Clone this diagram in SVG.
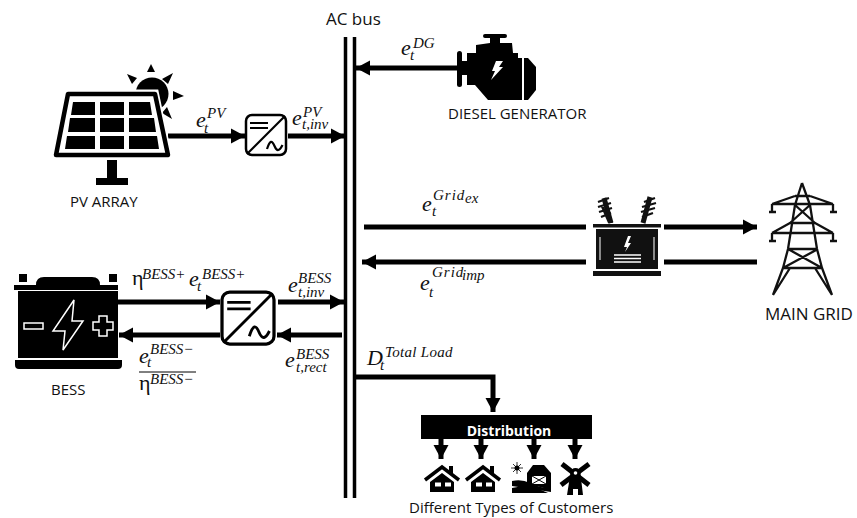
<svg xmlns="http://www.w3.org/2000/svg" width="857" height="518" viewBox="0 0 857 518">
<defs>
<style>
.lab{font-family:"Open Sans","Liberation Sans",sans-serif;font-size:15px;fill:#111}
.math{font-family:"Liberation Serif",serif;font-style:italic;fill:#111;font-size:15px}
.b{font-size:22px}
.up{font-style:normal}
.w{fill:none;stroke:#000;stroke-width:5}
.inv{fill:#fff;stroke:#000;stroke-width:2.5}
.tw{fill:none;stroke:#111;stroke-width:2.3}
</style>
<marker id="a" markerUnits="userSpaceOnUse" markerWidth="14" markerHeight="16" refX="14" refY="8" orient="auto"><path d="M0 0.500L14 8L0 15.500Z"/></marker>
<g id="invsym">
<rect class="inv" x="0" y="0" width="40" height="40" rx="6"/>
<path d="M1 39L39 1" stroke="#000" stroke-width="2.2" fill="none"/>
<path d="M4 8H22M4 13H22" stroke="#000" stroke-width="2.2" fill="none"/>
<path d="M21 34c3-9 5-9 7.500-3s5 5 8-1" stroke="#000" stroke-width="2.200" fill="none"/>
</g>
<g id="house">
<path d="M1 15L18 2L35 15" fill="none" stroke="#000" stroke-width="3.500"/>
<path d="M25 1H29V9L25 6Z"/>
<path d="M6 17L18 8L30 17V27H6ZM11 17.500V21.500H17V17.500ZM21 17.500V21.500H27V17.500Z" fill-rule="evenodd"/>
</g>
</defs>
<g id="connectors">
<path d="M345.500 37V498M354.500 37V498" stroke="#000" stroke-width="3.500" fill="none"/>
<path class="w" marker-end="url(#a)" d="M168 136H245"/>
<path class="w" marker-end="url(#a)" d="M288 136H345"/>
<path class="w" marker-end="url(#a)" d="M458 68H356"/>
<path class="w" marker-end="url(#a)" d="M118 302H220"/>
<path class="w" marker-end="url(#a)" d="M220 335H119"/>
<path class="w" marker-end="url(#a)" d="M278 302H344"/>
<path class="w" marker-end="url(#a)" d="M342 335H277"/>
<path class="w" d="M364 227H586"/>
<path class="w" marker-end="url(#a)" d="M586 262H362"/>
<path class="w" marker-end="url(#a)" d="M664 227H757"/>
<path class="w" d="M664 262H757"/>
<path class="w" marker-end="url(#a)" d="M356 377H493V412"/>
<path class="w" marker-end="url(#a)" d="M441 439V459"/>
<path class="w" marker-end="url(#a)" d="M481 439V459"/>
<path class="w" marker-end="url(#a)" d="M534 439V459"/>
<path class="w" marker-end="url(#a)" d="M575 439V459"/>
</g>
<g id="bus-label"><text class="lab" x="326" y="25" style="font-size:17px">AC bus</text></g>
<g id="pv-array">
<circle cx="152" cy="94" r="16.500"/>
<path d="M151 64L155 72H147ZM127 74L137 78L132 84ZM173 73L168 84L162 79ZM184 96L173 100V91ZM172 119L162 113L167 107Z"/>
<path d="M66 91H157L171 158H53Z" fill="#fff" stroke="#fff" stroke-width="3"/>
<path d="M68 94H155L168 155H56Z" fill="#fff" stroke="#000" stroke-width="4.500" stroke-linejoin="round"/>
<path d="M73 102H95V115H71ZM100 102H124V115H100ZM129 102H150L152 115H129ZM70 118H95V132H68ZM100 118H124V132H100ZM129 118H154L156 132H129ZM67 136H95V149H65ZM100 136H124V149H100ZM129 136H157L159 149H129Z"/>
<path d="M107 160H117V178H128V185H96V178H107Z"/>
<text class="lab" x="70" y="207">PV ARRAY</text>
</g>
<g id="pv-inverter"><use href="#invsym" x="246" y="115"/></g>
<g id="diesel-generator">
<rect x="457" y="51" width="5" height="36" rx="2.500"/>
<path d="M462 61H467V53H476V45L490 43V38H485Q483 38 483 36T485 34H505Q507 34 507 36T505 38H500V43H512L513 53H518V58H522V100H488L475 85H467V75H462Z"/>
<path d="M524 58H528L536 67V90L528 100H524Z"/>
<path d="M496 61H503L499 67H503L491 80L495 71H492Z" fill="#fff"/>
<text class="lab" x="448" y="119">DIESEL GENERATOR</text>
</g>
<g id="transformer">
<path d="M604 198L611 223" stroke="#111" stroke-width="5" fill="none"/>
<path d="M604 207L613 223H608L601 207Z" fill="#111"/>
<path d="M598 202L609 198M598 207L611 203M599 212L612 208M601 217L611 213" stroke="#111" stroke-width="2.200" fill="none"/>
<path d="M650 197L643 223" stroke="#111" stroke-width="5" fill="none"/>
<path d="M644 202L655 198M642 207L656 203M641 212L655 208M642 217L653 213" stroke="#111" stroke-width="2.200" fill="none"/>
<rect x="593" y="224" width="68" height="3.500" fill="#111"/>
<rect x="596" y="229" width="62" height="40" fill="#111"/>
<rect x="593" y="271" width="68" height="5" fill="#111"/>
<path d="M600 237V260M654 237V260" stroke="#ddd" stroke-width="1.200"/>
<path d="M628 236L624 247H627L625 252L631 243H628L631 236Z" fill="#fff"/>
<path d="M614 255H641M614 258.500H641M614 262H641" stroke="#fff" stroke-width="1.500"/>
</g>
<g id="main-grid">
<path class="tw" d="M802 183L795 205L788 249L783 268L773 295M802 183L810 205L817 249L822 268L832 295M795 196H810M772 204H833M772 204L795 196M833 204L810 196M795 205L815 223M810 205L790 223M790 223H815M772 233H833M772 233L790 223M833 233L815 223M788 249H818M788 249L822 268M818 249L783 268M783 268H822M790 268L773 295M815 268L832 295"/>
<path d="M772 204V212M769 212H776M833 204V212M830 212H837M772 233V241M769 241H776M833 233V241M830 241H837" class="tw" stroke-width="2"/>
<text class="lab" x="765" y="320" style="font-size:17px">MAIN GRID</text>
</g>
<g id="bess">
<path d="M19 274H27V282H19ZM109 274H117V282H109ZM36 285Q36 277 44 277H92Q100 277 100 285ZM14 285H118V290H14ZM18 291H118V358H18ZM15 360H122V365Q122 369 118 369H19Q15 369 15 365Z"/>
<path d="M24 323H43V329H24Z" fill="none" stroke="#fff" stroke-width="1.500"/>
<path d="M74 300L53 331H65L63 350L83 321H72Z" fill="none" stroke="#fff" stroke-width="1.500"/>
<path d="M99 316H107V322H113V330H107V336H99V330H93V322H99Z" fill="none" stroke="#fff" stroke-width="1.500"/>
<text class="lab" x="51" y="395">BESS</text>
</g>
<g id="bess-inverter"><g transform="translate(222 292) scale(1.300)"><use href="#invsym"/></g></g>
<g id="distribution">
<rect x="421" y="415" width="171" height="24"/>
<text x="509" y="436" text-anchor="middle" style="font-family:'Open Sans','Liberation Sans',sans-serif;font-weight:700;font-size:14px;fill:#fff">Distribution</text>
</g>
<g id="customers">
<use href="#house" x="424" y="465"/>
<use href="#house" x="465" y="465"/>
<circle cx="517" cy="468" r="2.500"/><path d="M517 462V474M511 468H523M513 464L521 472M521 464L513 472" stroke="#000" stroke-width=".8"/>
<path d="M527 484V473L533 465H544L551 473V490L540 487Z"/>
<path d="M532 476H546V484H532Z" fill="#fff"/>
<path d="M532 476L546 484M546 476L532 484" stroke="#000"/>
<path d="M512 481Q522 479 530 483Q542 489 551 488V492L512 486Z" fill="#000"/>
<path d="M512 488Q530 484 548 493H512Z"/>
<path d="M562 464L589 485M589 464L561 485" stroke="#000" stroke-width="5"/>
<path d="M571 470H580L583 495H578V489H573V495H567Z"/>
<circle cx="575.500" cy="473" r="5"/>
<circle cx="575.500" cy="473" r="1.800" fill="#fff"/>
<text class="lab" x="409" y="513">Different Types of Customers</text>
</g>
<g id="labels">
<text class="math"><tspan class="b" x="196" y="127">e</tspan><tspan x="204" y="133">t</tspan><tspan x="207" y="118">PV</tspan></text>
<text class="math"><tspan class="b" x="292" y="125">e</tspan><tspan x="302" y="129">t,inv</tspan><tspan x="303" y="117">PV</tspan></text>
<text class="math"><tspan class="b" x="401" y="55">e</tspan><tspan x="410" y="60">t</tspan><tspan x="413" y="48">DG</tspan></text>
<text class="math"><tspan class="b" x="422" y="211">e</tspan><tspan x="432" y="216">t</tspan><tspan x="433" y="200" letter-spacing="1">Grid</tspan><tspan x="465" y="203">ex</tspan></text>
<text class="math"><tspan class="b" x="420" y="290">e</tspan><tspan x="429" y="297">t</tspan><tspan x="432" y="277" letter-spacing="1">Grid</tspan><tspan x="462" y="280">imp</tspan></text>
<text class="math"><tspan class="b" x="367" y="365">D</tspan><tspan x="380" y="370">t</tspan><tspan x="385" y="357" letter-spacing=".3">Total Load</tspan></text>
<text class="math"><tspan class="b up" x="132" y="285">η</tspan><tspan x="142" y="279">BESS+</tspan><tspan class="b" x="189" y="286">e</tspan><tspan x="197" y="291">t</tspan><tspan x="202" y="279">BESS+</tspan></text>
<text class="math"><tspan class="b" x="288" y="292">e</tspan><tspan x="298" y="297">t,inv</tspan><tspan x="298" y="283">BESS</tspan></text>
<text class="math"><tspan class="b" x="285" y="367">e</tspan><tspan x="296" y="372">t,rect</tspan><tspan x="296" y="359">BESS</tspan></text>
<text class="math"><tspan class="b" x="139" y="363">e</tspan><tspan x="147" y="367">t</tspan><tspan x="150" y="354">BESS−</tspan></text>
<path d="M139 372H196" stroke="#000" stroke-width="1"/>
<text class="math"><tspan class="b up" x="139" y="390">η</tspan><tspan x="150" y="384">BESS−</tspan></text>
</g>
</svg>
